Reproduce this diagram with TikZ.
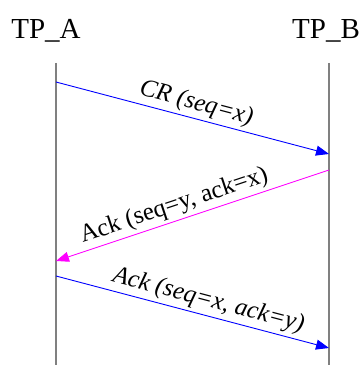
\documentclass[tikz,border=0pt]{standalone}
\usepackage{fontspec}
\setmainfont{Liberation Serif}
\usetikzlibrary{arrows.meta}
\definecolor{msgblue}{RGB}{0,0,255}
\definecolor{msgpink}{RGB}{255,0,255}
\tikzset{
    lifeline/.style={draw=gray, line width=1.4pt},
    msg/.style={line width=0.9pt, -{Triangle[length=13pt,width=10pt]}},
    msglabel/.style={sloped, above, font=\fontsize{25}{29}\selectfont, inner sep=3pt},
    party/.style={anchor=base, font=\fontsize{29}{34}\selectfont}
}
\begin{document}
\begin{tikzpicture}[x=1pt,y=1pt]
        \useasboundingbox (0,0) rectangle (360,365);
        \node[party] (tpa) at (46,326) {TP\_A};
        \node[party] (tpb) at (326,326) {TP\_B};
        \coordinate (atop) at (56,302);
        \coordinate (abot) at (56,0);
        \coordinate (btop) at (329,302);
        \coordinate (bbot) at (329,0);
        \draw[lifeline] (atop) -- (abot);
        \draw[lifeline] (btop) -- (bbot);
        \coordinate (cr1) at (56,283);
        \coordinate (cr2) at (329,211);
        \coordinate (ack1) at (329,195);
        \coordinate (ack2) at (56,104);
        \coordinate (fin1) at (56,89);
        \coordinate (fin2) at (329,17);
        \draw[msg, msgblue] (cr1) -- node[msglabel, text=black, pos=0.5] {\itshape CR (seq=x)} (cr2);
        \draw[msg, msgpink] (ack1) -- node[msglabel, text=black, pos=0.55] {Ack (seq=y, ack=x)} (ack2);
        \draw[msg, msgblue] (fin1) -- node[msglabel, text=black, pos=0.545] {\itshape Ack (seq=x, ack=y)} (fin2);
    \end{tikzpicture}
\end{document}
